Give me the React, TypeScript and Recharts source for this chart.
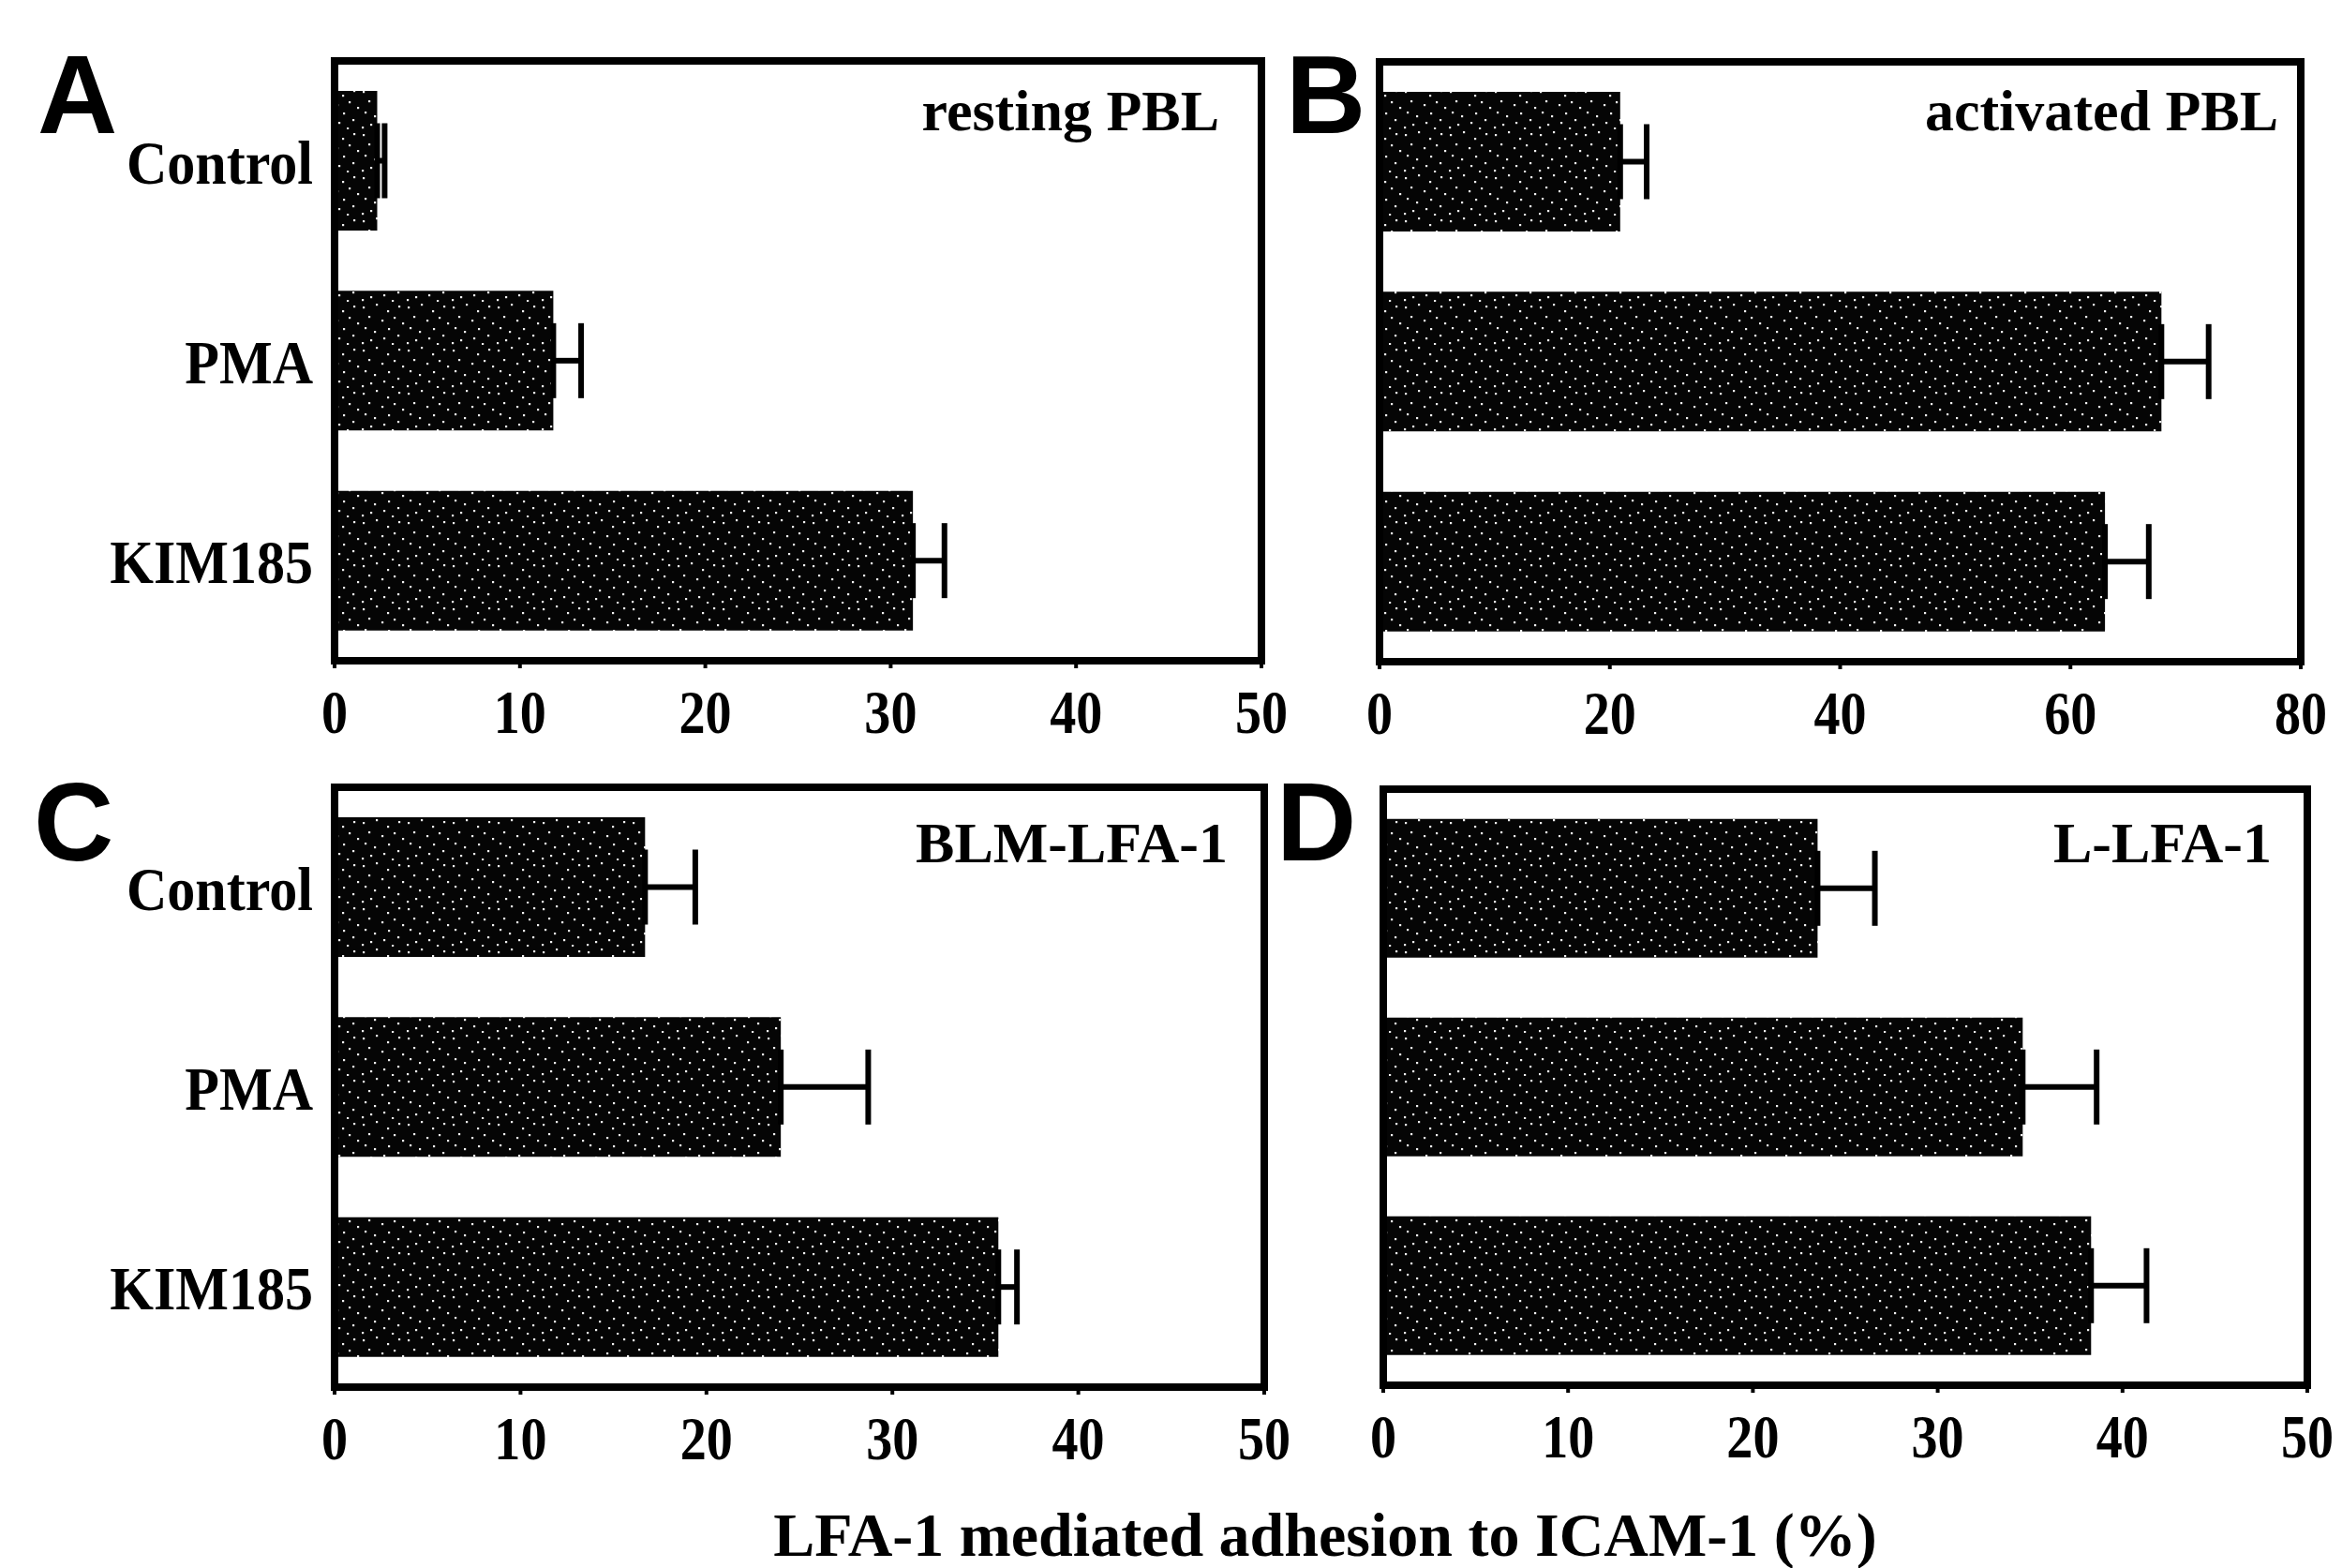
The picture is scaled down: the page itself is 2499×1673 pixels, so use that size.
import { Bar, BarChart, ErrorBar, XAxis, YAxis } from 'recharts';

const categories = ['Control', 'PMA', 'KIM185'];

const restingValues = [2.3, 11.8, 31.2];
const restingErrors = [0.4, 1.5, 1.7];

const activatedValues = [20.9, 67.9, 63.0];
const activatedErrors = [2.3, 4.1, 3.8];

const blmValues = [16.7, 24.0, 35.7];
const blmErrors = [2.7, 4.7, 1.0];

const lLfaValues = [23.5, 34.6, 38.3];
const lLfaErrors = [3.1, 4.0, 3.0];

const ticks50 = [0, 10, 20, 30, 40, 50];
const ticks80 = [0, 20, 40, 60, 80];

const SERIF = '"Liberation Serif", "Times New Roman", serif';
const SANS = '"Liberation Sans", Arial, sans-serif';

// texture only: sparse light specks on the black bars
const SPECKS = [
  [3, 5], [17, 2], [29, 9], [41, 4], [9, 15], [23, 19], [36, 16], [45, 22],
  [5, 27], [15, 31], [30, 28], [40, 35], [11, 40], [25, 38], [2, 43], [34, 44],
];

// error bars only point outwards, so the low side is 0
const build = (values: number[], errors: number[]) =>
  categories.map((name, i) => ({ name, value: values[i], err: [0, errors[i]] }));

const NumTick = ({ x, y, payload }: any) => (
  <text
    transform={`translate(${x},${y + 69}) scale(0.85,1)`}
    textAnchor="middle"
    fontFamily={SERIF}
    fontWeight={700}
    fontSize={66}
    fill="#000"
  >
    {payload.value}
  </text>
);

const CatTick = ({ x, y, payload }: any) => (
  <text
    transform={`translate(${x - 23},${y + 24}) scale(0.91,1)`}
    textAnchor="end"
    fontFamily={SERIF}
    fontWeight={700}
    fontSize={66}
    fill="#000"
  >
    {payload.value}
  </text>
);

const line = { stroke: '#000', strokeWidth: 8, strokeLinecap: 'square' as const };

type PanelProps = {
  id: string;
  values: number[];
  errors: number[];
  max: number;
  ticks: number[];
  showNames: boolean;
  box: { x: number; y: number; w: number; h: number };
  plot: { left: number; right: number; top: number; bottom: number };
};

const Panel = ({ id, values, errors, max, ticks, showNames, box, plot }: PanelProps) => {
  const data = build(values, errors);
  return (
    <div style={{ position: 'absolute', left: box.x, top: box.y, width: box.w, height: box.h }}>
      <BarChart
        width={box.w}
        height={box.h}
        data={data}
        layout="vertical"
        barCategoryGap="15%"
        margin={{
          top: plot.top - box.y - 1,
          right: box.x + box.w - plot.right - 1,
          bottom: 0,
          left: 0,
        }}
      >
        <defs>
          <pattern id={`speck-${id}`} width={48} height={46} patternUnits="userSpaceOnUse">
            <rect width={48} height={46} fill="#050505" />
            {SPECKS.map(([cx, cy], i) => (
              <rect key={i} x={cx} y={cy} width={2.2} height={2.2} fill="#f0f0f0" />
            ))}
          </pattern>
        </defs>
        <XAxis
          type="number"
          domain={[0, max]}
          ticks={ticks}
          interval={0}
          height={box.y + box.h - plot.bottom}
          axisLine={line}
          tickLine={{ stroke: '#000', strokeWidth: 4 }}
          tickSize={8}
          tickMargin={0}
          tick={<NumTick />}
        />
        <XAxis
          xAxisId="top"
          orientation="top"
          type="number"
          domain={[0, max]}
          height={1}
          tick={false}
          tickLine={false}
          axisLine={line}
        />
        <YAxis
          type="category"
          dataKey="name"
          interval={0}
          width={plot.left - box.x}
          axisLine={line}
          tickLine={false}
          tickSize={0}
          tickMargin={0}
          tick={showNames ? <CatTick /> : false}
        />
        <YAxis
          yAxisId="right"
          orientation="right"
          type="category"
          dataKey="name"
          width={1}
          tick={false}
          tickLine={false}
          axisLine={line}
        />
        <Bar dataKey="value" fill={`url(#speck-${id})`} isAnimationActive={false}>
          <ErrorBar dataKey="err" direction="x" width={40} strokeWidth={6} stroke="#000" />
        </Bar>
      </BarChart>
    </div>
  );
};

const labelStyle = { fontFamily: SERIF, fontWeight: 700, fontSize: 62, fill: '#000' };
const letterStyle = { fontFamily: SANS, fontWeight: 900, fontSize: 118, fill: '#000' };

export default function App() {
  return (
    <div
      style={{
        position: 'absolute',
        left: 0,
        top: 0,
        width: 2499,
        height: 1673,
        background: '#fff',
        overflow: 'hidden',
      }}
    >
      <Panel
        id="a"
        values={restingValues}
        errors={restingErrors}
        max={50}
        ticks={ticks50}
        showNames
        box={{ x: 0, y: 0, w: 1400, h: 800 }}
        plot={{ left: 357, right: 1346, top: 65, bottom: 705 }}
      />
      <Panel
        id="b"
        values={activatedValues}
        errors={activatedErrors}
        max={80}
        ticks={ticks80}
        showNames={false}
        box={{ x: 1400, y: 0, w: 1099, h: 800 }}
        plot={{ left: 1472, right: 2455, top: 66, bottom: 706 }}
      />
      <Panel
        id="c"
        values={blmValues}
        errors={blmErrors}
        max={50}
        ticks={ticks50}
        showNames
        box={{ x: 0, y: 780, w: 1400, h: 820 }}
        plot={{ left: 357, right: 1349, top: 840, bottom: 1480 }}
      />
      <Panel
        id="d"
        values={lLfaValues}
        errors={lLfaErrors}
        max={50}
        ticks={ticks50}
        showNames={false}
        box={{ x: 1400, y: 780, w: 1099, h: 820 }}
        plot={{ left: 1476, right: 2462, top: 842, bottom: 1478 }}
      />
      <svg
        width={2499}
        height={1673}
        style={{ position: 'absolute', left: 0, top: 0, pointerEvents: 'none' }}
      >
        <text x={40} y={142} {...letterStyle}>A</text>
        <text x={1372} y={142} {...letterStyle}>B</text>
        <text x={36} y={918} {...letterStyle}>C</text>
        <text x={1362} y={918} {...letterStyle}>D</text>
        <text x={1301} y={139} textAnchor="end" {...labelStyle}>resting PBL</text>
        <text x={2431} y={139} textAnchor="end" {...labelStyle}>activated PBL</text>
        <text x={1310} y={920} textAnchor="end" {...labelStyle}>BLM-LFA-1</text>
        <text x={2424} y={920} textAnchor="end" {...labelStyle}>L-LFA-1</text>
        <text
          x={1414}
          y={1660}
          textAnchor="middle"
          fontFamily={SERIF}
          fontWeight={700}
          fontSize={66}
          fill="#000"
        >
          LFA-1 mediated adhesion to ICAM-1 (%)
        </text>
      </svg>
    </div>
  );
}
